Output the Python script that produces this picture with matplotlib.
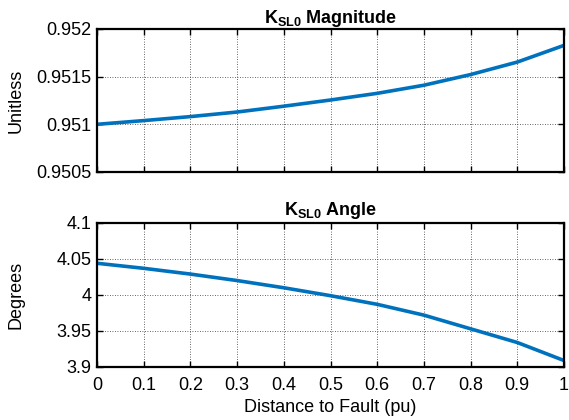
import matplotlib.pyplot as plt
import numpy as np

plt.rcParams['font.family'] = ['Liberation Sans', 'DejaVu Sans']
plt.rcParams['mathtext.fontset'] = 'custom'
plt.rcParams['mathtext.bf'] = 'Liberation Sans:bold'
plt.rcParams['mathtext.rm'] = 'Liberation Sans'

# fault location along the line, per unit
distance = [0.0, 0.1, 0.2, 0.3, 0.4, 0.5, 0.6, 0.7, 0.8, 0.9, 1.0]
# zero-sequence source-to-line ratio K_SL0
k_mag = [0.95100, 0.951039, 0.951081, 0.951129, 0.951190, 0.951255,
         0.951325, 0.951410, 0.951522, 0.951653, 0.951828]
k_ang = [4.044, 4.037, 4.029, 4.020, 4.010, 3.999,
         3.987, 3.972, 3.953, 3.934, 3.909]

mag_ticks = [0.9505, 0.951, 0.9515, 0.952]
mag_labels = ['0.9505', '0.951', '0.9515', '0.952']
ang_ticks = [3.9, 3.95, 4.0, 4.05, 4.1]
ang_labels = ['3.9', '3.95', '4', '4.05', '4.1']
x_ticks = [0, 0.1, 0.2, 0.3, 0.4, 0.5, 0.6, 0.7, 0.8, 0.9, 1]
x_labels = ['0', '0.1', '0.2', '0.3', '0.4', '0.5', '0.6', '0.7', '0.8', '0.9', '1']

blue = '#0072BD'
fs = 13

fig = plt.figure(figsize=(5.69, 4.2), dpi=100)
ax1 = fig.add_axes([0.1705, 0.5905, 0.8207, 0.3405])
ax2 = fig.add_axes([0.1705, 0.1262, 0.8207, 0.343])


def style(ax):
    ax.set_xlim(0, 1)
    ax.set_xticks(x_ticks)
    ax.tick_params(direction='in', top=True, right=True, length=4,
                   width=1, labelsize=fs, pad=4)
    ax.tick_params(axis='x', pad=7)
    ax.grid(True, linestyle=(0, (1, 2)), color='#333333', linewidth=0.6)
    for s in ax.spines.values():
        s.set_linewidth(1.6)


ax1.plot(distance, k_mag, color=blue, lw=2.6)
style(ax1)
ax1.set_ylim(0.9505, 0.952)
ax1.set_yticks(mag_ticks)
ax1.set_yticklabels(mag_labels)
ax1.set_xticklabels([])
ax1.set_ylabel('Unitless', fontsize=fs)
ax1.set_title(r'$\mathbf{K_{SL0}}$ Magnitude', fontsize=fs,
              fontweight='bold', pad=4)

ax2.plot(distance, k_ang, color=blue, lw=2.6)
style(ax2)
ax2.set_ylim(3.9, 4.1)
ax2.set_yticks(ang_ticks)
ax2.set_yticklabels(ang_labels)
ax2.set_xticklabels(x_labels)
ax2.set_ylabel('Degrees', fontsize=fs)
ax2.set_xlabel('Distance to Fault (pu)', fontsize=fs, labelpad=4)
ax2.set_title(r'$\mathbf{K_{SL0}}$ Angle', fontsize=fs,
              fontweight='bold', pad=6)

ax1.yaxis.set_label_coords(-0.155, 0.5)
ax2.yaxis.set_label_coords(-0.155, 0.5)

fig.savefig('out.png', dpi=100)
